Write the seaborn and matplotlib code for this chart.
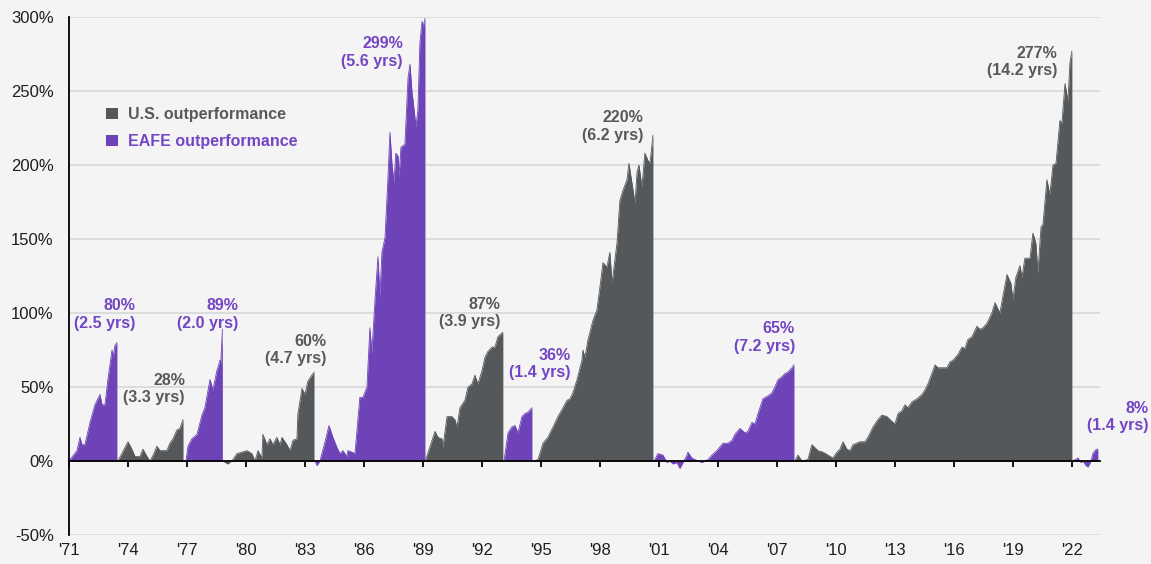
import matplotlib
matplotlib.use('Agg')
import matplotlib.pyplot as plt
from matplotlib.patches import Patch
import seaborn as sns

# Cumulative outperformance of the leading region in each cycle (%), x in decimal years
eafe_71_t = [1971.00, 1971.41, 1971.56, 1971.66, 1971.81, 1972.07, 1972.32, 1972.58, 1972.68,
             1972.83, 1972.98, 1973.19, 1973.24, 1973.34, 1973.44]
eafe_71_v = [0, 7, 16, 11, 11, 26, 38, 45, 38, 38, 55, 75, 70, 78, 80]

us_73_t = [1973.49, 1973.69, 1974.00, 1974.20, 1974.36, 1974.61, 1974.76, 1974.97, 1975.12,
           1975.32, 1975.47, 1975.63, 1975.98, 1976.13, 1976.29, 1976.49, 1976.64, 1976.80]
us_73_v = [0, 5, 13, 8, 3, 3, 8, 3, 0, 5, 10, 7, 7, 12, 15, 21, 22, 28]

eafe_77_t = [1976.95, 1977.05, 1977.25, 1977.51, 1977.76, 1977.91, 1978.17, 1978.32, 1978.52,
             1978.68, 1978.72, 1978.80]
eafe_77_v = [0, 10, 15, 18, 31, 36, 55, 48, 61, 68, 66, 89]

us_79_t = [1978.83, 1979.08, 1979.34, 1979.54, 1979.80, 1980.05, 1980.30, 1980.46, 1980.61,
           1980.81, 1980.86, 1981.07, 1981.22, 1981.37, 1981.57, 1981.73, 1981.83, 1982.08,
           1982.24, 1982.39, 1982.59, 1982.64, 1982.85, 1983.00, 1983.15, 1983.35, 1983.46]
us_79_v = [0, -2, 1, 5, 6, 7, 5, 0, 7, 2, 18, 11, 15, 11, 16, 11, 16, 11, 7, 14, 15, 32, 49,
           45, 54, 58, 60]

eafe_83_t = [1983.51, 1983.61, 1983.76, 1984.02, 1984.22, 1984.42, 1984.63, 1984.78, 1984.93,
             1985.13, 1985.18, 1985.39, 1985.54, 1985.79, 1985.95, 1986.15, 1986.30, 1986.40,
             1986.56, 1986.71, 1986.81, 1986.91, 1987.07, 1987.22, 1987.32, 1987.42, 1987.52,
             1987.62, 1987.73, 1987.78, 1987.88, 1988.08, 1988.24, 1988.34, 1988.44, 1988.49,
             1988.64, 1988.74, 1988.84, 1988.95, 1989.00, 1989.10]
eafe_83_v = [0, -3, 0, 13, 24, 16, 9, 5, 7, 3, 7, 6, 5, 43, 43, 50, 90, 73, 109, 138, 111, 141,
             151, 192, 222, 201, 188, 208, 206, 192, 212, 214, 259, 268, 249, 244, 226, 237,
             282, 297, 293, 299]

us_89_t = [1989.12, 1989.46, 1989.61, 1989.76, 1989.96, 1990.01, 1990.22, 1990.47, 1990.62,
           1990.73, 1990.88, 1991.13, 1991.29, 1991.49, 1991.64, 1991.79, 1992.00, 1992.15,
           1992.30, 1992.51, 1992.66, 1992.81, 1993.06]
us_89_v = [0, 14, 20, 16, 15, 9, 30, 30, 28, 23, 36, 41, 50, 52, 58, 52, 61, 70, 74, 77, 77,
           84, 87]

eafe_93_t = [1993.12, 1993.32, 1993.52, 1993.67, 1993.83, 1994.03, 1994.18, 1994.34, 1994.54]
eafe_93_v = [0, 19, 23, 24, 19, 30, 32, 33, 36]

us_94_t = [1994.59, 1994.85, 1995.10, 1995.35, 1995.61, 1995.86, 1996.12, 1996.32, 1996.47,
           1996.62, 1996.83, 1997.08, 1997.13, 1997.23, 1997.39, 1997.64, 1997.84, 1998.00,
           1998.15, 1998.35, 1998.50, 1998.61, 1998.86, 1999.01, 1999.17, 1999.37, 1999.47,
           1999.62, 1999.78, 1999.88, 1999.98, 2000.13, 2000.28, 2000.44, 2000.54, 2000.69]
us_94_v = [0, 1, 12, 16, 23, 30, 36, 41, 42, 46, 55, 68, 75, 70, 82, 95, 102, 118, 134, 131,
           141, 120, 147, 176, 183, 190, 201, 188, 174, 195, 200, 185, 208, 203, 201, 220]

eafe_00_t = [2000.75, 2000.94, 2001.20, 2001.40, 2001.55, 2001.71, 2001.91, 2002.06, 2002.22,
             2002.42, 2002.47, 2002.67, 2002.83, 2002.98, 2003.18, 2003.33, 2003.49, 2003.69,
             2003.94, 2004.25, 2004.50, 2004.71, 2004.86, 2005.11, 2005.37, 2005.52, 2005.72,
             2005.88, 2006.03, 2006.28, 2006.54, 2006.74, 2006.89, 2007.05, 2007.25, 2007.40,
             2007.55, 2007.76, 2007.86]
eafe_00_v = [0, 5, 4, -1, 0, -2, -1, -5, -1, 4, 6, 2, 1, 0, -1, 0, 1, 4, 7, 12, 12, 14, 18,
             22, 19, 20, 26, 25, 32, 42, 44, 46, 50, 55, 57, 59, 60, 63, 65]

us_07_t = [2007.91, 2008.06, 2008.27, 2008.57, 2008.77, 2008.93, 2009.08, 2009.33, 2009.59,
           2009.84, 2010.05, 2010.20, 2010.35, 2010.55, 2010.71, 2010.86, 2011.21, 2011.47,
           2011.62, 2011.88, 2012.13, 2012.33, 2012.59, 2012.74, 2012.99, 2013.15, 2013.35,
           2013.50, 2013.65, 2013.86, 2014.11, 2014.37, 2014.52, 2014.67, 2014.87, 2015.03,
           2015.18, 2015.38, 2015.64, 2015.79, 2015.94, 2016.20, 2016.40, 2016.55, 2016.70,
           2016.91, 2017.16, 2017.31, 2017.47, 2017.67, 2017.92, 2018.08, 2018.33, 2018.48,
           2018.69, 2018.89, 2018.99, 2019.14, 2019.35, 2019.45, 2019.60, 2019.86, 2020.01,
           2020.16, 2020.26, 2020.42, 2020.52, 2020.72, 2020.87, 2021.03, 2021.18, 2021.38,
           2021.48, 2021.64, 2021.79, 2021.89, 2021.99]
us_07_v = [0, 4, 0, 1, 11, 9, 7, 6, 4, 2, 6, 8, 13, 8, 7, 11, 13, 13, 16, 23, 28, 31, 30, 28,
           25, 32, 34, 38, 36, 40, 42, 45, 48, 52, 59, 65, 63, 63, 63, 67, 68, 72, 77, 76, 82,
           84, 91, 89, 90, 93, 100, 107, 100, 111, 126, 120, 109, 124, 132, 124, 137, 137, 154,
           147, 127, 158, 160, 190, 180, 200, 201, 230, 228, 255, 243, 269, 277]

eafe_22_t = [2022.04, 2022.30, 2022.45, 2022.55, 2022.70, 2022.81, 2022.96, 2023.06, 2023.16,
             2023.26, 2023.31]
eafe_22_v = [0, 2, -1, 0, -3, -4, 0, 5, 7, 8, 8]

leaders = ['EAFE', 'US', 'EAFE', 'US', 'EAFE', 'US', 'EAFE', 'US', 'EAFE', 'US', 'EAFE']
peak_text = ['80%', '28%', '89%', '60%', '299%', '87%', '36%', '220%', '65%', '277%', '8%']
span_text = ['(2.5 yrs)', '(3.3 yrs)', '(2.0 yrs)', '(4.7 yrs)', '(5.6 yrs)', '(3.9 yrs)',
             '(1.4 yrs)', '(6.2 yrs)', '(7.2 yrs)', '(14.2 yrs)', '(1.4 yrs)']

year_ticks = [1971, 1974, 1977, 1980, 1983, 1986, 1989, 1992, 1995, 1998, 2001, 2004, 2007,
              2010, 2013, 2016, 2019, 2022]
year_labels = ["'71", "'74", "'77", "'80", "'83", "'86", "'89", "'92", "'95", "'98", "'01",
               "'04", "'07", "'10", "'13", "'16", "'19", "'22"]
pct_ticks = [-50, 0, 50, 100, 150, 200, 250, 300]
pct_labels = ['-50%', '0%', '50%', '100%', '150%', '200%', '250%', '300%']

# layout: right edge / vertical centre of each annotation, in data units
label_pos = [(1974.36, 99), (1976.90, 48.6), (1979.59, 99), (1984.07, 75), (1987.98, 276),
             (1992.91, 100), (1996.52, 65.5), (2000.18, 226), (2007.91, 83.4),
             (2021.23, 269.6), (2025.86, 29.7)]

cycles = [(eafe_71_t, eafe_71_v), (us_73_t, us_73_v), (eafe_77_t, eafe_77_v),
          (us_79_t, us_79_v), (eafe_83_t, eafe_83_v), (us_89_t, us_89_v),
          (eafe_93_t, eafe_93_v), (us_94_t, us_94_v), (eafe_00_t, eafe_00_v),
          (us_07_t, us_07_v), (eafe_22_t, eafe_22_v)]

fill_color = {'US': '#55585a', 'EAFE': '#6d43b7'}
text_color = {'US': '#58595b', 'EAFE': '#7445c4'}
bg = '#f4f4f4'

sns.set_theme(style='white', rc={'figure.facecolor': bg, 'axes.facecolor': bg})
plt.rcParams['font.family'] = ['Liberation Sans', 'DejaVu Sans']

fig = plt.figure(figsize=(11.51, 5.64), dpi=100)
ax = fig.add_axes([0.0599, 0.0514, 0.8958, 0.9185])

for (t, v), who in zip(cycles, leaders):
    ax.fill_between(t, v, 0, color=fill_color[who], linewidth=0, zorder=2)
    sns.lineplot(x=t, y=v, ax=ax, color=fill_color[who], linewidth=0.6, zorder=2)

for (x, y), who, pk, sp in zip(label_pos, leaders, peak_text, span_text):
    ax.text(x, y, f'{pk}\n{sp}', ha='right', va='center', multialignment='right',
            color=text_color[who], fontsize=11.5, fontweight='bold', linespacing=1.2)

ax.set_xlim(1971.0, 2023.42)
ax.set_ylim(-50, 300)

ax.set_yticks(pct_ticks)
ax.set_yticklabels(pct_labels)
ax.set_xticks(year_ticks)
ax.set_xticklabels(year_labels)
ax.grid(axis='y', color='#d8d8d8', linewidth=1.2, zorder=0)
ax.grid(axis='x', visible=False)
ax.set_axisbelow(True)

for s in ['top', 'right']:
    ax.spines[s].set_visible(False)
ax.spines['left'].set_color('black')
ax.spines['left'].set_linewidth(1.3)
ax.spines['bottom'].set_position(('data', 0))
ax.spines['bottom'].set_color('black')
ax.spines['bottom'].set_linewidth(1.3)
ax.spines['bottom'].set_zorder(3)

ax.tick_params(axis='y', length=0, pad=11, labelsize=12, labelcolor='#1e1e1e')
ax.tick_params(axis='x', bottom=True, direction='out', length=4, width=1.3, color='black',
               pad=55, labelsize=12, labelcolor='#1e1e1e')

handles = [Patch(facecolor=fill_color['US'], edgecolor='none'),
           Patch(facecolor=fill_color['EAFE'], edgecolor='none')]
leg = ax.legend(handles, ['U.S. outperformance', 'EAFE outperformance'],
                loc='upper left', bbox_to_anchor=(0.036, 0.826), frameon=False,
                handlelength=0.75, handleheight=0.75, handletextpad=0.6,
                labelspacing=0.75, borderpad=0, borderaxespad=0,
                prop={'size': 11.5, 'weight': 'bold'})
for txt, who in zip(leg.get_texts(), ['US', 'EAFE']):
    txt.set_color(text_color[who])

fig.savefig('out.png', dpi=100, facecolor=bg)
